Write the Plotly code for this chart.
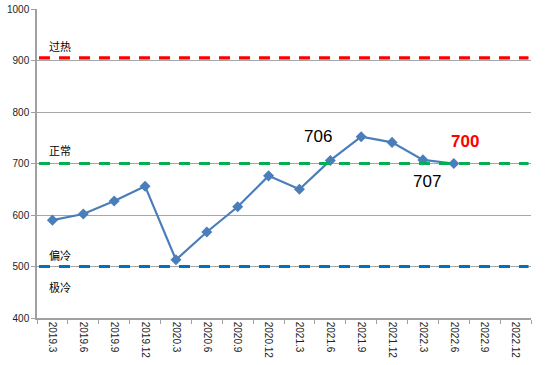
import plotly.graph_objects as go

categories = ["2019.3", "2019.6", "2019.9", "2019.12", "2020.3", "2020.6", "2020.9", "2020.12",
              "2021.3", "2021.6", "2021.9", "2021.12", "2022.3", "2022.6", "2022.9", "2022.12"]
values = [590, 602, 627, 656, 513, 567, 616, 676, 650, 706, 752, 741, 707, 700, None, None]

ref_names = ["过热", "正常", "偏冷"]
ref_values = [905, 700, 500]
ref_colors = ["#ff0000", "#00b050", "#0070c0"]
ref_label_shift = [12, 14, 12]
below_label = "极冷"

point_labels = [("2021.6", 706, "706", -12, 24, "black", False),
                ("2022.3", 707, "707", 4, -22, "black", False),
                ("2022.6", 700, "700", 11, 22, "#ff0000", True)]

fig = go.Figure()

for name, v, c in zip(ref_names, ref_values, ref_colors):
    fig.add_shape(type="line", xref="paper", x0=0.004, x1=0.995, yref="y", y0=v, y1=v,
                  line=dict(color=c, width=3.2, dash="11px,9px"), layer="above")

fig.add_trace(go.Scatter(
    x=categories, y=values, mode="lines+markers",
    line=dict(color="#4a7ebb", width=2.2),
    marker=dict(symbol="diamond", size=8.5, color="#4a7ebb"),
    connectgaps=False, showlegend=False, cliponaxis=False,
))

cjk = "Noto Sans CJK SC"
for name, v, s in zip(ref_names, ref_values, ref_label_shift):
    fig.add_annotation(xref="paper", x=0.02, y=v, yref="y", text=name, showarrow=False,
                       xanchor="left", yanchor="middle", yshift=s,
                       font=dict(family=cjk, size=11, color="black"))
fig.add_annotation(xref="paper", x=0.02, y=ref_values[2], yref="y", text=below_label,
                   showarrow=False, xanchor="left", yanchor="middle", yshift=-20,
                   font=dict(family=cjk, size=11, color="black"))

for cat, v, txt, xs, ys, col, bold in point_labels:
    fig.add_annotation(x=categories.index(cat), xref="x", y=v, yref="y",
                       text=f"<b>{txt}</b>" if bold else txt, showarrow=False,
                       xshift=xs, yshift=ys,
                       font=dict(family="Liberation Sans", size=17, color=col))

fig.update_layout(
    width=554, height=365,
    margin=dict(l=37, r=23, t=9, b=47),
    paper_bgcolor="white", plot_bgcolor="white",
    font=dict(family="Liberation Sans", size=10, color="#333333"),
    showlegend=False,
)
fig.update_xaxes(
    type="category", categoryorder="array", categoryarray=categories,
    range=[-0.5, len(categories) - 0.5], automargin=False,
    tickangle=90, tickson="boundaries", ticks="outside", ticklen=4, tickcolor="#a0a0a0",
    showline=True, linecolor="#a0a0a0", linewidth=1.5, showgrid=False,
    tickfont=dict(size=10, color="#222222"),
)
fig.update_yaxes(
    range=[400, 1000], dtick=100, ticks="outside", ticklen=4, tickcolor="#a0a0a0",
    showline=True, linecolor="#a0a0a0", linewidth=1.5, automargin=False,
    ticklabeloverflow="allow",
    showgrid=True, gridcolor="#a6a6a6", gridwidth=1, zeroline=False,
    tickfont=dict(size=10, color="#222222"),
)

fig.write_html("out.html", config={"displayModeBar": False},
               post_script="document.body.style.margin='0';")
